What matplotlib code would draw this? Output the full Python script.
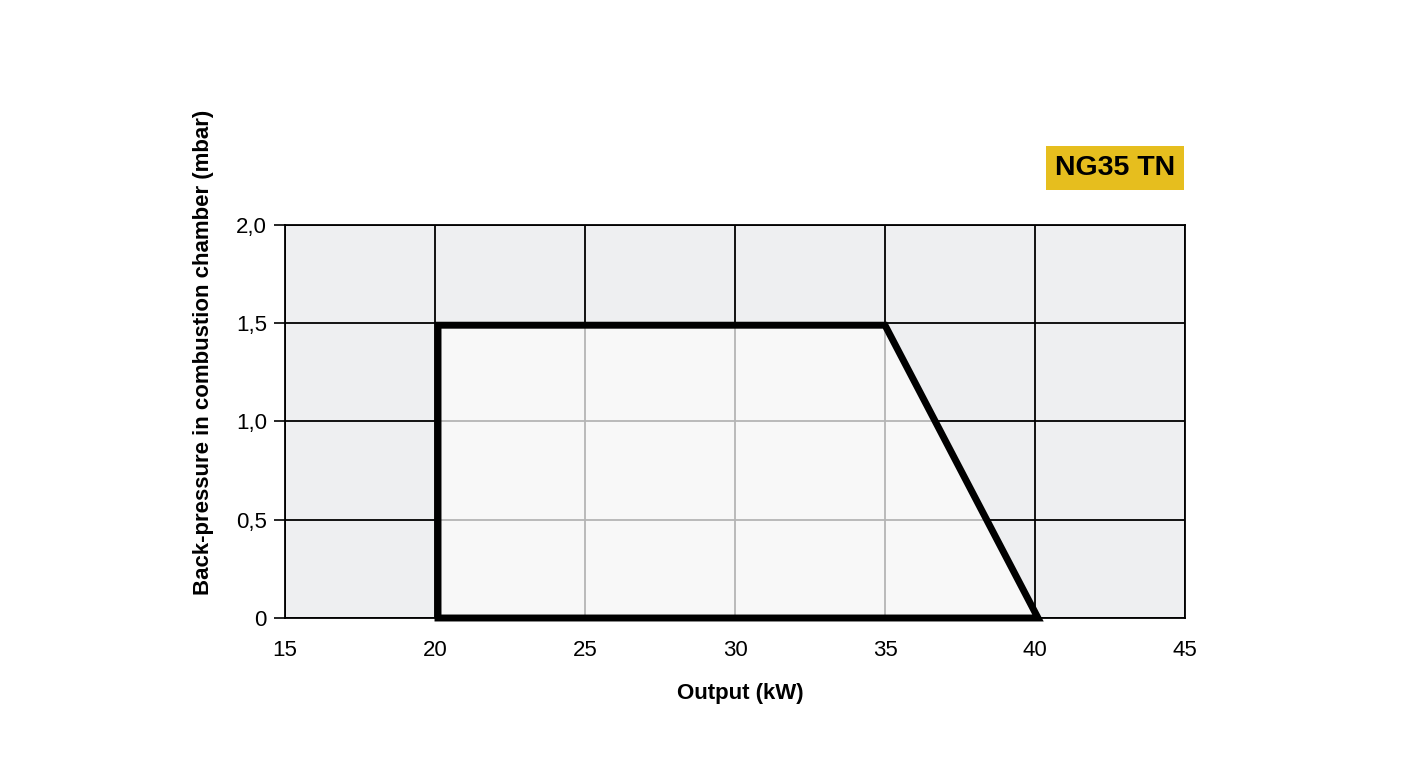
import matplotlib.pyplot as plt
from matplotlib.patches import Polygon
from matplotlib.ticker import FixedLocator

plt.rcParams['font.family'] = ['Liberation Sans', 'DejaVu Sans']

# operating range of the burner
output_kw = [20.1, 20.1, 35, 40.1]
back_pressure = [0, 1.49, 1.49, 0]

x_ticks = [15, 20, 25, 30, 35, 40, 45]
y_ticks = [0, 0.5, 1.0, 1.5, 2.0]
y_tick_labels = ['0', '0,5', '1,0', '1,5', '2,0']
model = 'NG35 TN'

fig = plt.figure(figsize=(14.04, 7.7), dpi=100)
ax = fig.add_axes([0.2030, 0.1974, 0.6410, 0.5104])
ax.set_facecolor('#eeeff1')
ax.set_xlim(15, 45)
ax.set_ylim(0, 2.0)

ax.set_xticks(x_ticks)
ax.set_yticks(y_ticks)
ax.set_yticklabels(y_tick_labels)
ax.tick_params(axis='x', length=0, pad=16, labelsize=16)
ax.tick_params(axis='y', length=8, width=1.2, pad=5, labelsize=16)
ax.xaxis.set_minor_locator(FixedLocator([15, 45]))
ax.tick_params(axis='x', which='minor', length=7, width=1.2)

ax.set_axisbelow(True)
ax.grid(True, color='black', linewidth=1.3)
for s in ax.spines.values():
    s.set_linewidth(1.3)

pts = list(zip(output_kw, back_pressure))
fill = Polygon(pts, closed=True, facecolor='#f8f8f8', edgecolor='none', zorder=1)
ax.add_patch(fill)

# lighter grid inside the operating area
for x in x_ticks:
    ln = ax.axvline(x, color='#b5b5b5', linewidth=1.3, zorder=2)
    ln.set_clip_path(fill)
for y in y_ticks:
    ln = ax.axhline(y, color='#b5b5b5', linewidth=1.3, zorder=2)
    ln.set_clip_path(fill)

outline = Polygon(pts, closed=True, facecolor='none', edgecolor='black',
                  linewidth=5, joinstyle='miter', zorder=4, clip_on=False)
ax.add_patch(outline)

fig.text(0.1446, 0.543, 'Back-pressure in combustion chamber (mbar)', rotation=90,
         ha='center', va='center', fontsize=16, fontweight='bold')
fig.text(0.527, 0.099, 'Output (kW)', ha='center', va='center',
         fontsize=16, fontweight='bold')

fig.text(0.7941, 0.7818, model, ha='center', va='center', fontsize=20.5, fontweight='bold',
         bbox=dict(boxstyle='square,pad=0.3', facecolor='#e6be1e', edgecolor='none'))

fig.savefig('out.png', dpi=100)
